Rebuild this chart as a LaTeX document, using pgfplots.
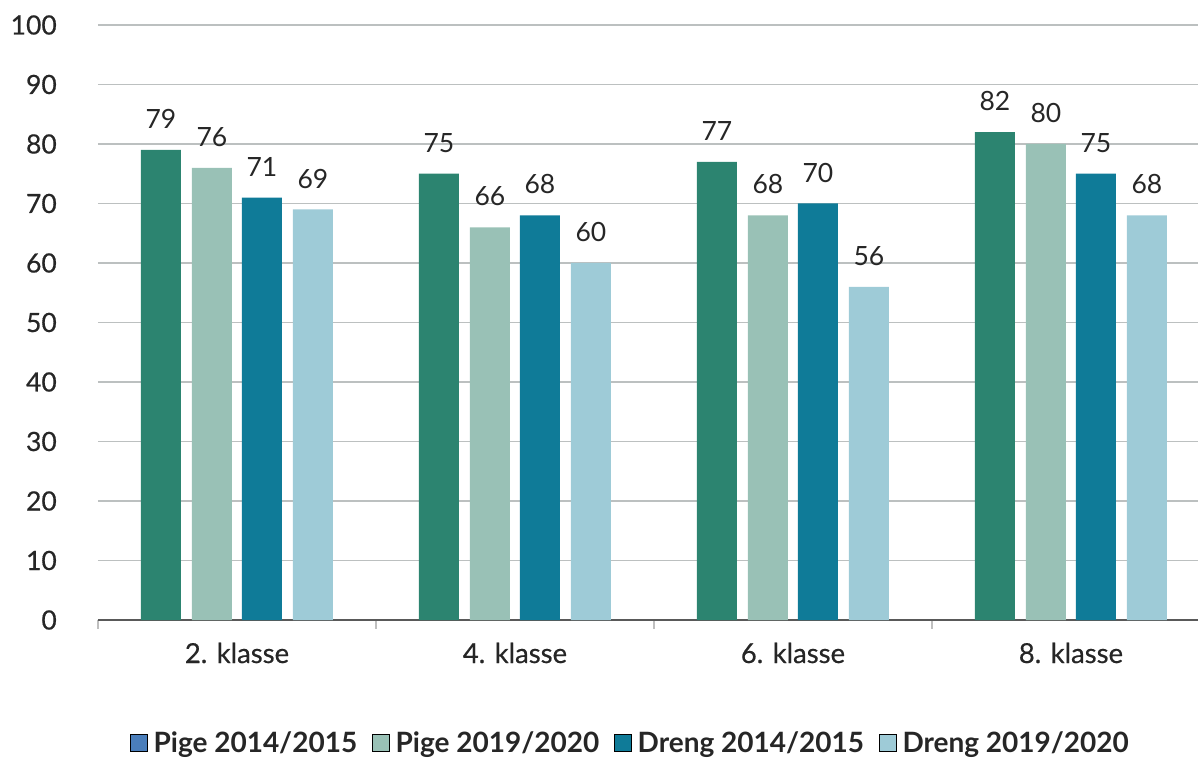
\documentclass[border=0pt]{standalone}
\usepackage{fontspec}
\setmainfont{Lato}
\newfontfamily\latomed{Lato}[FakeBold=0.5]
\usepackage{pgfplots}
\pgfplotsset{compat=1.18}
\definecolor{cA}{HTML}{2C8470}
\definecolor{cB}{HTML}{99C1B6}
\definecolor{cC}{HTML}{0F7B98}
\definecolor{cD}{HTML}{9ECBD7}
\definecolor{legA}{HTML}{4A7EBB}
\definecolor{txt}{HTML}{262626}
\definecolor{gridc}{HTML}{BCC0C0}
\begin{document}
\begin{tikzpicture}
\useasboundingbox (-98pt,-137pt) rectangle (1100pt,620pt);
\begin{axis}[
  at={(0pt,0pt)}, anchor=south west,
  scale only axis, width=1100pt, height=595pt,
  xmin=-0.5, xmax=3.457, ymin=0, ymax=100,
  /pgf/number format/assume math mode=true,
  axis lines*=left,
  y axis line style={draw=none},
  x axis line style={color=black!65, line width=1.3pt},
  ytick={0,10,...,100},
  ymajorgrids, grid style={color=gridc, line width=1.2pt},
  xtick={0,1,2,3},
  xticklabels={2. klasse,4. klasse,6. klasse,8. klasse},
  minor xtick={-0.5,0.5,1.5,2.5},
  major tick length=0pt, minor tick length=9pt,
  tick align=outside,
  minor tick style={color=black!25, line width=1.3pt},
  yticklabel style={anchor=east, inner sep=0pt, xshift=-41pt, font=\latomed\fontsize{26.5}{30}\selectfont, text=txt},
  xticklabel style={anchor=base, inner sep=0pt, yshift=-43pt, font=\latomed\fontsize{27.5}{30}\selectfont, text=txt},
  ybar, bar width=40pt,
  nodes near coords,
  nodes near coords style={anchor=south, inner sep=0pt, yshift=21pt, font=\fontsize{26.5}{30}\selectfont, text=txt},
  clip=false,
  legend columns=4,
  legend style={draw=none, fill=none, at={(0.0291,-0.2067)}, anchor=west, inner sep=0pt,
    font=\bfseries\fontsize{28}{32}\selectfont, text=txt,
    nodes={inner sep=3pt},
    /tikz/every even column/.append style={column sep=12pt}},
  legend cell align=left,
  legend image code/.code={\fill[#1] (0pt,-8pt) rectangle (17pt,9pt); \path (20pt,0pt);},
]
\addplot[fill=cA, draw=none, bar shift=-76pt, forget plot] coordinates {(0,79) (1,75) (2,77) (3,82)};
\addplot[fill=cB, draw=none, bar shift=-25pt, forget plot] coordinates {(0,76) (1,66) (2,68) (3,80)};
\addplot[fill=cC, draw=none, bar shift=25pt, forget plot] coordinates {(0,71) (1,68) (2,70) (3,75)};
\addplot[fill=cD, draw=none, bar shift=76pt, forget plot] coordinates {(0,69) (1,60) (2,56) (3,68)};
\addlegendimage{fill=legA}
\addlegendentry{Pige 2014/2015}
\addlegendimage{fill=cB}
\addlegendentry{Pige 2019/2020}
\addlegendimage{fill=cC}
\addlegendentry{Dreng 2014/2015}
\addlegendimage{fill=cD}
\addlegendentry{Dreng 2019/2020}
\end{axis}
\end{tikzpicture}
\end{document}
